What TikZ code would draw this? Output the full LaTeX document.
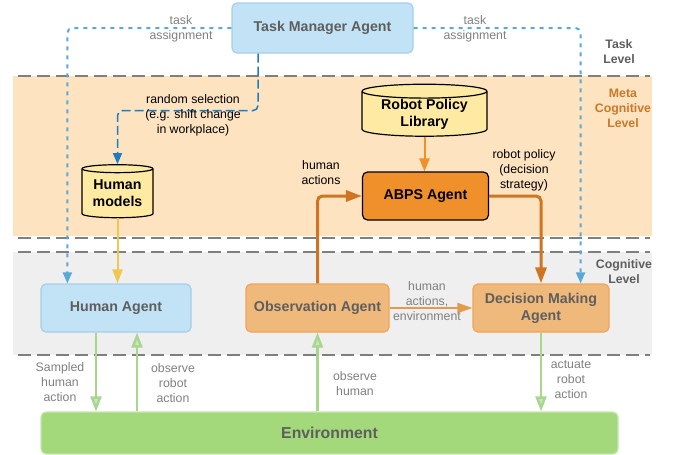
\documentclass[tikz,border=0pt]{standalone}
\usepackage{fontspec}
\setmainfont{Liberation Sans}
\usetikzlibrary{shapes.geometric,arrows.meta}
\definecolor{tmblue}{HTML}{C2E3F6}
\definecolor{tmborder}{HTML}{A6CFEA}
\definecolor{dotblue}{HTML}{5AA8D8}
\definecolor{dashblue}{HTML}{1F7CC0}
\definecolor{metaband}{HTML}{FDE3C0}
\definecolor{cogband}{HTML}{EFEFEF}
\definecolor{sepgray}{HTML}{7F7F7F}
\definecolor{cylyellow}{HTML}{FEEAA2}
\definecolor{abpsorange}{HTML}{F0902A}
\definecolor{agorange}{HTML}{EFB97C}
\definecolor{agborder}{HTML}{F1A458}
\definecolor{envgreen}{HTML}{A3D97A}
\definecolor{envborder}{HTML}{C6E6AE}
\definecolor{arrgreen}{HTML}{A9D68F}
\definecolor{darkorange}{HTML}{CF7420}
\definecolor{lightorange}{HTML}{E39A4A}
\definecolor{arryellow}{HTML}{F0C850}
\definecolor{nodetext}{HTML}{5E5E5E}
\definecolor{lbltext}{HTML}{808080}
\definecolor{metatext}{HTML}{C8792A}
\newcommand\lblfont{\fontsize{12.3}{15}\selectfont}
\newcommand\bxfont{\fontsize{14.2}{17}\selectfont\bfseries}
\tikzset{
  x=1pt,y=-1pt,
  agentbox/.style={rounded corners=5pt, line width=1.2pt, inner sep=0pt, align=center, font=\bxfont},
  tmbox/.style={agentbox, fill=tmblue, draw=tmborder, text=nodetext},
  orbox/.style={agentbox, fill=agorange, draw=agborder, text=nodetext},
  abpsbox/.style={agentbox, fill=abpsorange, draw=black, text=black},
  envbox/.style={agentbox, fill=envgreen, draw=envborder, text=nodetext, font=\fontsize{15.8}{18}\selectfont\bfseries},
  db/.style={cylinder, shape border rotate=90, aspect=0.16, draw=black, line width=1.2pt, fill=cylyellow, inner sep=0pt, align=center, font=\bxfont, text=black},
  lbl/.style={align=center, font=\lblfont, text=lbltext, inner sep=0pt},
  blbl/.style={lbl, text=black},
  levellbl/.style={align=center, font=\lblfont\bfseries, text=nodetext, inner sep=0pt},
  sep/.style={draw=sepgray, line width=1.6pt, dash pattern=on 13pt off 6pt},
  bluedot/.style={draw=dotblue, line width=2pt, dash pattern=on 4pt off 5pt, rounded corners=5pt, -{Triangle[length=11pt,width=9pt]}},
  bluedash/.style={draw=dashblue, line width=1.5pt, dash pattern=on 9pt off 4pt, rounded corners=5pt, -{Triangle[length=11pt,width=9pt]}},
  greenarr/.style={draw=arrgreen, line width=2.5pt, -{Triangle[length=15pt,width=11pt,fill=arrgreen!60!white]}},
  thickor/.style={draw=darkorange, line width=3pt, rounded corners=5pt, -{Triangle[length=16pt,width=11pt]}},
  thinor/.style={draw=lightorange, line width=2pt, -{Triangle[length=15pt,width=10pt]}},
  yelarr/.style={draw=arryellow, line width=2pt, -{Triangle[length=14pt,width=10pt]}},
  orarr/.style={draw=abpsorange, line width=2pt, -{Triangle[length=13pt,width=10pt]}},
}
\begin{document}
\begin{tikzpicture}
\useasboundingbox (0,0) rectangle (673,455);
% bands
\fill[metaband] (13,76) rectangle (652,236);
\fill[cogband] (13,252) rectangle (652,355);
\draw[sep] (18,76) -- (650,76);
\draw[sep] (18,238) -- (650,238);
\draw[sep] (18,252) -- (650,252);
\draw[sep] (18,355) -- (650,355);
% level labels
\node[levellbl] (tasklevel) at (619,52) {Task\\Level};
\node[levellbl, text=metatext] (metalevel) at (623,108) {Meta\\Cognitive\\Level};
\node[levellbl] (coglevel) at (624,272) {Cognitive\\Level};
% nodes
\node[tmbox, minimum width=181pt, minimum height=50pt] (task) at (322.5,28) {Task Manager Agent};
\node[db, minimum width=71pt, minimum height=53pt] (hm) at (117.5,193.5) {Human\\models};
\node[db, minimum width=125pt, minimum height=52pt] (rpl) at (424.5,114) {Robot Policy\\Library};
\node[abpsbox, minimum width=126pt, minimum height=48pt] (abps) at (425.5,196) {ABPS Agent};
\node[tmbox, minimum width=150pt, minimum height=48pt] (ha) at (116,308) {Human Agent};
\node[orbox, minimum width=143pt, minimum height=48pt] (obs) at (317.5,308) {Observation Agent};
\node[orbox, minimum width=136pt, minimum height=48pt] (dec) at (541,308) {Decision Making\\Agent};
\node[envbox, minimum width=577pt, minimum height=42pt] (env) at (329.5,433) {Environment};
% task assignment
\draw[bluedot] (task.west) -| ([xshift=27pt]ha.north west);
\draw[bluedot] (task.east) -| ([xshift=-29pt]dec.north east);
\node[lbl] (ta1) at (181,28.5) {task\\assignment};
\node[lbl] (ta2) at (475,28.5) {task\\assignment};
% random selection
\draw[bluedash] ([xshift=-64.5pt]task.south) -- ++(0,57) -| (hm.north);
\node[blbl] (rs) at (193,115) {random selection\\(e.g. shift change\\in workplace)};
% human models -> human agent
\draw[yelarr] (hm.south) -- (hm.south |- ha.north);
% robot policy library -> ABPS
\draw[orarr] (rpl.south) -- (rpl.south |- abps.north);
% observation -> ABPS
\draw[thickor] (obs.north) |- (abps.west);
\node[blbl] (ha1) at (321,173) {human\\actions};
% ABPS -> decision
\draw[thickor] (abps.east) -| (dec.north);
\node[blbl] (rp) at (524,170) {robot policy\\(decision\\strategy)};
% observation -> decision
\draw[thinor] (obs.east) -- (dec.west);
\node[lbl] (hae) at (427,301) {human\\actions,\\environment};
% green arrows
\draw[greenarr] ([xshift=-20pt]ha.south) -- ([xshift=-20pt]ha.south |- env.north);
\node[lbl] (sha) at (60,382) {Sampled\\human\\action};
\draw[greenarr] ([xshift=21pt]ha.south |- env.north) -- ([xshift=21pt]ha.south);
\node[lbl] (ora) at (173,383) {observe\\robot\\action};
\draw[greenarr] (obs.south |- env.north) -- (obs.south);
\node[lbl] (oh) at (355,383.5) {observe\\human};
\draw[greenarr] (dec.south) -- (dec.south |- env.north);
\node[lbl] (ara) at (571,380) {actuate\\robot\\action};
\end{tikzpicture}
\end{document}
